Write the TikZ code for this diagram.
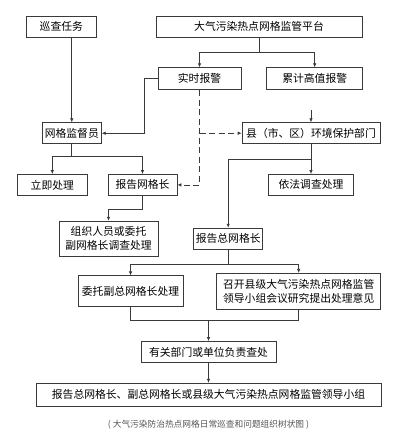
\documentclass[tikz,border=0pt]{standalone}
\usepackage{fontspec}
\usepackage{xcolor}
\usepackage{tikz}
\usetikzlibrary{arrows.meta,positioning}
\newfontfamily\cjk{Noto Sans CJK SC}
\definecolor{lineGray}{HTML}{3A3A3A}
\definecolor{capGray}{HTML}{555555}

\begin{document}
\begin{tikzpicture}[
        x=1pt, y=-1pt,
        box/.style={draw=lineGray, line width=0.7pt, align=center, inner sep=2pt,
                    minimum height=21pt, font=\cjk\fontsize{10.8}{13.5}\selectfont},
        captext/.style={font=\cjk\fontsize{8.7}{10}\selectfont, text=capGray},
        arr/.style={-{Latex[length=4pt,width=3.5pt]}, line width=0.7pt, lineGray},
        lnk/.style={line width=0.7pt, lineGray},
        dsh/.style={arr, dash pattern=on 6pt off 3.5pt},
    ]
        \useasboundingbox (0,0) rectangle (400,437);
        \node[box, minimum width=206pt] (pt) at (259,26.5) {大气污染热点网格监管平台};
        \node[box, minimum width=70pt, left=59pt of pt] (xc) {巡查任务};
        \node[box, minimum width=83pt, minimum height=22pt, below=30pt of pt, xshift=-59.5pt] (ss) {实时报警};
        \node[box, minimum width=96pt, minimum height=22pt, right=25pt of ss] (lj) {累计高值报警};
        \node[box, minimum width=59pt, below=85pt of xc, xshift=10.5pt] (jd) {网格监督员};
        \node[box, minimum width=138pt, right=140pt of jd] (xian) {县（市、区）环境保护部门};
        \node[box, minimum width=70pt, below=30pt of jd, xshift=-19.5pt] (lc) {立即处理};
        \node[box, minimum width=69pt, right=20pt of lc] (bg) {报告网格长};
        \node[box, minimum width=85pt, below=30pt of xian] (yf) {依法调查处理};
        \node[box, minimum width=99pt, minimum height=35pt, below=25pt of bg, xshift=-34pt] (zz) {组织人员或委托\\副网格长调查处理};
        \node[box, minimum width=69pt, right=35pt of zz] (zwg) {报告总网格长};
        \node[box, minimum width=105pt, minimum height=31pt, below=19pt of zz, xshift=22pt] (wt) {委托副总网格长处理};
        \node[box, minimum width=164pt, minimum height=36pt, right=33pt of wt] (zk) {召开县级大气污染热点网格监管\\领导小组会议研究提出处理意见};
        \node[box, minimum width=135pt, below=34pt of wt, xshift=78pt] (yg) {有关部门或单位负责查处};
        \node[box, minimum width=345pt, minimum height=23pt, below=20pt of yg] (zh) {报告总网格长、副总网格长或县级大气污染热点网格监管领导小组};
        \node[captext, below=10pt of zh] (cp) {(\ 大气污染防治热点网格日常巡查和问题组织树状图\ )};

        \coordinate[above=12pt of xian] (xtop);
        \coordinate[above=21pt of yg] (mg);

        \draw[lnk] (pt.south) -- ++(0,15) coordinate (pt1);
        \draw[arr] (pt1) -| (ss.north);
        \draw[arr] (pt1) -| (lj.north);
        \draw[arr] (xc.south -| jd.north) -- (jd.north);
        \draw[arr] (ss.west) -- ++(-13,0) |- (jd.east);
        \draw[dsh] (ss.south) |- (bg.east);
        \draw[dsh] (ss.south |- xian.west) -- (xian.west);
        \draw[arr] (xtop) -- (xian.north);
        \draw[lnk] (jd.south) -- ++(0,12) coordinate (jd1);
        \draw[arr] (jd1) -| (lc.north);
        \draw[arr] (jd1) -| (bg.north);
        \draw[arr] (xian.south) -- (yf.north);
        \draw[arr] (xian.south) ++(0,15) -| (zwg.north);
        \draw[lnk] (bg.south) -- ++(0,14) coordinate (bg1);
        \draw[arr] (bg1) -| (zz.north);
        \draw[lnk] (zwg.south) -- ++(0,15) coordinate (zw1);
        \draw[arr] (zw1) -| (wt.north);
        \draw[arr] (zw1) -| (zk.north);
        \draw[lnk] (wt.south) |- (mg) -| (zk.south);
        \draw[arr] (mg) -- (yg.north);
        \draw[arr] (yg.south) -- (zh.north);
    \end{tikzpicture}
\end{document}
